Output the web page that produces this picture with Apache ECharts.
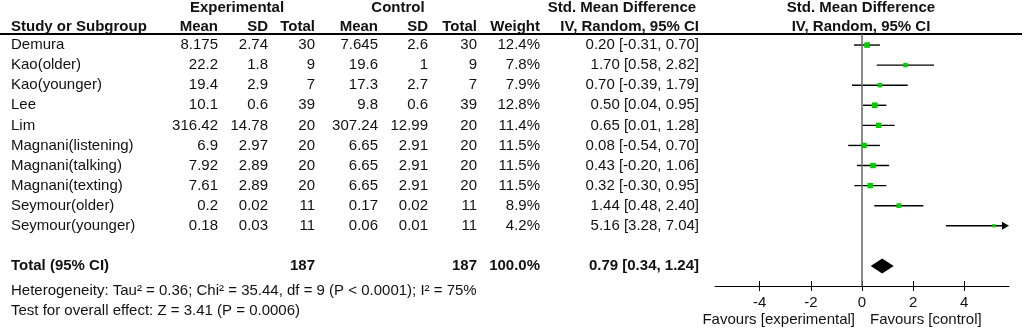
<!DOCTYPE html>
<html>
<head>
<meta charset="utf-8">
<script src="https://cdn.jsdelivr.net/npm/echarts@6/dist/echarts.min.js"></script>
<style>
  html, body { margin: 0; padding: 0; background: #fff; }
  #main { width: 1024px; height: 329px; }
</style>
</head>
<body>
<div id="main"></div>
<script>
// study data
var studies = ['Demura', 'Kao(older)', 'Kao(younger)', 'Lee', 'Lim', 'Magnani(listening)',
  'Magnani(talking)', 'Magnani(texting)', 'Seymour(older)', 'Seymour(younger)'];
var expMean = ['8.175', '22.2', '19.4', '10.1', '316.42', '6.9', '7.92', '7.61', '0.2', '0.18'];
var expSD = ['2.74', '1.8', '2.9', '0.6', '14.78', '2.97', '2.89', '2.89', '0.02', '0.03'];
var expTotal = [30, 9, 7, 39, 20, 20, 20, 20, 11, 11];
var ctlMean = ['7.645', '19.6', '17.3', '9.8', '307.24', '6.65', '6.65', '6.65', '0.17', '0.06'];
var ctlSD = ['2.6', '1', '2.7', '0.6', '12.99', '2.91', '2.91', '2.91', '0.02', '0.01'];
var ctlTotal = [30, 9, 7, 39, 20, 20, 20, 20, 11, 11];
var weight = [12.4, 7.8, 7.9, 12.8, 11.4, 11.5, 11.5, 11.5, 8.9, 4.2];
var smd = [0.20, 1.70, 0.70, 0.50, 0.65, 0.08, 0.43, 0.32, 1.44, 5.16];
var ciLow = [-0.31, 0.58, -0.39, 0.04, 0.01, -0.54, -0.20, -0.30, 0.48, 3.28];
var ciHigh = [0.70, 2.82, 1.79, 0.95, 1.28, 0.70, 1.06, 0.95, 2.40, 7.04];

// pooled result
var totalRow = 11;
var totalExpN = 187;
var totalCtlN = 187;
var totalWeight = 100.0;
var pooled = [0.79, 0.34, 1.24];
var hetText = 'Heterogeneity: Tau\u00b2 = 0.36; Chi\u00b2 = 35.44, df = 9 (P < 0.0001); I\u00b2 = 75%';
var effText = 'Test for overall effect: Z = 3.41 (P = 0.0006)';

// axis
var axisMin = -5.75;
var axisMax = 5.75;
var axisTicks = [-4, -2, 0, 2, 4];

var FONT = '"Liberation Sans", Arial, sans-serif';
var FS = 15;
var TXT = '#111';

var myChart = echarts.init(document.getElementById('main'));

var barData = [];
var sqData = [];
for (var i = 0; i < studies.length; i++) {
  barData.push([ciLow[i], ciHigh[i], i]);
  sqData.push([smd[i], i, weight[i]]);
}

var option = {
  animation: false,
  grid: { left: 715, top: 34, width: 294, height: 252 },
  xAxis: [{
    type: 'value', min: axisMin, max: axisMax,
    splitLine: { show: false },
    axisLine: { onZero: false, lineStyle: { color: '#000', width: 1 } },
    axisTick: { customValues: axisTicks, length: 5, lineStyle: { color: '#000' } },
    axisLabel: { customValues: axisTicks, margin: 9, color: TXT, fontSize: FS, fontFamily: FONT }
  }, {
    type: 'value', min: axisMin, max: axisMax, position: 'bottom',
    splitLine: { show: false },
    axisLine: { show: false, onZero: false },
    axisTick: { customValues: axisTicks, inside: true, length: 5, lineStyle: { color: '#000' } },
    axisLabel: { show: false }
  }],
  yAxis: {
    type: 'value', inverse: true, min: -0.55, max: 12, show: false
  },
  series: [{
    type: 'custom',
    xAxisIndex: 0,
    data: barData,
    clip: false,
    renderItem: function(params, api) {
      var hi = api.value(1);
      var cut = hi > axisMax;
      var p1 = api.coord([api.value(0), api.value(2)]);
      var p2 = api.coord([cut ? axisMax : hi, api.value(2)]);
      var children = [{
        type: 'line',
        shape: { x1: p1[0], y1: p1[1], x2: cut ? p2[0] - 4 : p2[0], y2: p2[1] },
        style: { stroke: '#000', lineWidth: 1.4 }
      }];
      if (cut) {
        children.push({
          type: 'polygon',
          shape: { points: [[p2[0] - 7, p2[1] - 4], [p2[0], p2[1]], [p2[0] - 7, p2[1] + 4]] },
          style: { fill: '#000' }
        });
      }
      return { type: 'group', children: children };
    },
    markLine: {
      silent: true,
      symbol: 'none',
      label: { show: false },
      lineStyle: { color: '#666', width: 1.5, type: 'solid' },
      data: [{ xAxis: 0 }]
    }
  }, {
    type: 'scatter',
    data: sqData,
    symbol: 'rect',
    symbolSize: function(v) { return 1.6 * Math.sqrt(v[2]); },
    itemStyle: { color: '#0c0', opacity: 1 },
    z: 5
  }, {
    type: 'custom',
    data: [[pooled[0], pooled[1], pooled[2], totalRow]],
    renderItem: function(params, api) {
      var row = api.value(3);
      var c = api.coord([api.value(0), row]);
      var l = api.coord([api.value(1), row]);
      var r = api.coord([api.value(2), row]);
      var h = 7.5;
      return {
        type: 'polygon',
        shape: { points: [[l[0], c[1]], [c[0], c[1] - h], [r[0], c[1]], [c[0], c[1] + h]] },
        style: { fill: '#000' }
      };
    }
  }]
};
myChart.setOption(option);

// table text, rows placed through the y axis
function rowY(r) { return myChart.convertToPixel({ yAxisIndex: 0 }, r); }
function txt(s, x, y, align, bold) {
  return {
    type: 'text', x: x, y: y, silent: true,
    style: {
      text: String(s), x: 0, y: 0, align: align || 'left', verticalAlign: 'middle',
      fill: TXT, font: (bold ? 'bold ' : '') + FS + 'px ' + FONT
    }
  };
}

// column right edges
var colX = { study: 11, eMean: 218, eSD: 268, eN: 315, cMean: 378, cSD: 428, cN: 477, w: 540, ci: 699 };

var g = [];
// headers
g.push(txt('Experimental', 237, 8, 'center', true));
g.push(txt('Control', 398, 8, 'center', true));
g.push(txt('Std. Mean Difference', 622, 8, 'center', true));
g.push(txt('Std. Mean Difference', 861, 8, 'center', true));
g.push(txt('Study or Subgroup', colX.study, 27, 'left', true));
g.push(txt('Mean', colX.eMean, 27, 'right', true));
g.push(txt('SD', colX.eSD, 27, 'right', true));
g.push(txt('Total', colX.eN, 27, 'right', true));
g.push(txt('Mean', colX.cMean, 27, 'right', true));
g.push(txt('SD', colX.cSD, 27, 'right', true));
g.push(txt('Total', colX.cN, 27, 'right', true));
g.push(txt('Weight', colX.w, 27, 'right', true));
g.push(txt('IV, Random, 95% CI', colX.ci, 27, 'right', true));
g.push(txt('IV, Random, 95% CI', 861, 27, 'center', true));
g.push({
  type: 'line', silent: true,
  shape: { x1: 0, y1: 34, x2: 1022, y2: 34 },
  style: { stroke: '#000', lineWidth: 2 }
});

for (var k = 0; k < studies.length; k++) {
  var y = rowY(k);
  g.push(txt(studies[k], colX.study, y, 'left'));
  g.push(txt(expMean[k], colX.eMean, y, 'right'));
  g.push(txt(expSD[k], colX.eSD, y, 'right'));
  g.push(txt(expTotal[k], colX.eN, y, 'right'));
  g.push(txt(ctlMean[k], colX.cMean, y, 'right'));
  g.push(txt(ctlSD[k], colX.cSD, y, 'right'));
  g.push(txt(ctlTotal[k], colX.cN, y, 'right'));
  g.push(txt(weight[k].toFixed(1) + '%', colX.w, y, 'right'));
  g.push(txt(smd[k].toFixed(2) + ' [' + ciLow[k].toFixed(2) + ', ' + ciHigh[k].toFixed(2) + ']', colX.ci, y, 'right'));
}

var ty = rowY(totalRow);
g.push(txt('Total (95% CI)', colX.study, ty, 'left', true));
g.push(txt(totalExpN, colX.eN, ty, 'right', true));
g.push(txt(totalCtlN, colX.cN, ty, 'right', true));
g.push(txt(totalWeight.toFixed(1) + '%', colX.w, ty, 'right', true));
g.push(txt(pooled[0].toFixed(2) + ' [' + pooled[1].toFixed(2) + ', ' + pooled[2].toFixed(2) + ']', colX.ci, ty, 'right', true));
g.push(txt(hetText, colX.study, 291, 'left'));
g.push(txt(effText, colX.study, 311, 'left'));

// favours labels around zero
var x0 = myChart.convertToPixel({ xAxisIndex: 0 }, 0);
g.push(txt('Favours [experimental]', x0 - 7, 320, 'right'));
g.push(txt('Favours [control]', x0 + 8, 320, 'left'));

myChart.setOption({ graphic: g });
</script>
</body>
</html>
